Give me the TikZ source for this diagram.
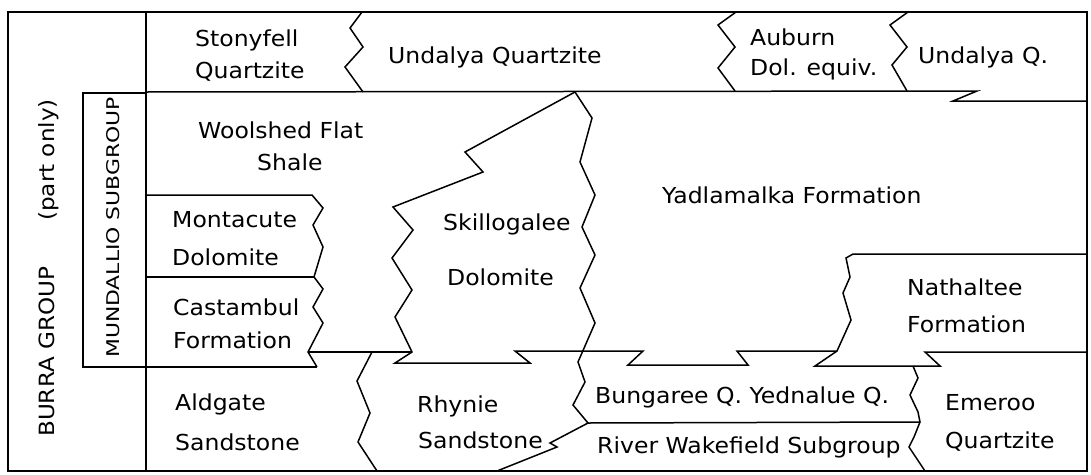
\documentclass[tikz,border=0pt]{standalone}
\usepackage{fontspec}
\setmainfont[FakeStretch=1.07]{DejaVu Sans}
\newfontfamily\mundfont[FakeStretch=1.25]{DejaVu Sans}
\newfontfamily\grpfont[FakeStretch=1.1]{DejaVu Sans}
\begin{document}
\begin{tikzpicture}[x=1pt,y=-1pt,
  boundary/.style={line width=1.5pt, line join=miter, line cap=butt},
  lbl/.style={anchor=base west, inner sep=0pt, font=\fontsize{22}{25}\selectfont},
  grp/.style={anchor=base west, inner sep=0pt, rotate=90, font=\grpfont\fontsize{21}{24}\selectfont},
  sub/.style={anchor=base west, inner sep=0pt, rotate=90, font=\mundfont\fontsize{17.5}{20}\selectfont}]
\useasboundingbox (0,0) rectangle (1091,474);

% frame
\draw[boundary] (8,12) rectangle (1087,471);
\draw[boundary] (146,12) -- (146,471);
% top row base
\draw[boundary] (146,92) -- (977,91) -- (953,101) -- (1087,101);
% top row zigzags
\draw[boundary] (362,12) -- (350,28) -- (363,47) -- (345,67) -- (363,92);
\draw[boundary] (736,12) -- (718,25) -- (735,47) -- (718,68) -- (735,91);
\draw[boundary] (908,12) -- (890,25) -- (907,47) -- (892,65) -- (907,91);
% Mundallio subgroup box
\draw[boundary] (146,93) -- (83,93) -- (83,367) -- (317,367);
% Montacute / Castambul
\draw[boundary] (146,195) -- (312,195) -- (323,208) -- (313,225) -- (323,247) -- (314,277)
  -- (323,289) -- (313,307) -- (323,323) -- (308,352) -- (317,367);
\draw[boundary] (146,277) -- (314,277);
\draw[boundary] (308,352) -- (412,352);
% Aldgate / Rhynie
\draw[boundary] (372,352) -- (357,381) -- (370,413) -- (358,442) -- (377,471);
% Skillogalee outline and base of Yadlamalka
\draw[boundary] (575,92) -- (465,152) -- (483,172) -- (393,207) -- (413,230) -- (392,258)
  -- (412,290) -- (395,317) -- (412,352) -- (395,363) -- (530,363) -- (515,351)
  -- (643,351) -- (628,365) -- (748,365) -- (737,351) -- (837,351);
\draw[boundary] (575,92) -- (592,118) -- (580,162) -- (595,195) -- (582,227) -- (595,255)
  -- (580,288) -- (595,323) -- (578,362) -- (585,382) -- (573,405) -- (588,423)
  -- (550,443) -- (557,447) -- (497,471);
% Bungaree / River Wakefield
\draw[boundary] (588,423) -- (920,422);
% Nathaltee
\draw[boundary] (1087,254) -- (853,254) -- (846,258) -- (850,277) -- (843,293) -- (851,320)
  -- (837,351) -- (815,366) -- (940,366) -- (925,352) -- (1087,352);
% Emeroo
\draw[boundary] (913,366) -- (918,378) -- (910,395) -- (918,412) -- (920,422)
  -- (914,437) -- (909,447) -- (925,471);

% labels
\node[grp] (burra) at (54,437) {BURRA GROUP};
\node[grp] (part) at (54,221) {(part only)};
\node[sub] (mund) at (119,358) {MUNDALLIO SUBGROUP};

\node[lbl] (sto1) at (195,46) {Stonyfell};
\node[lbl] (sto2) at (195,78) {Quartzite};
\node[lbl] (und) at (388,63) {Undalya Quartzite};
\node[lbl] (aub1) at (750,45) {Auburn};
\node[lbl] (aub2) at (750,75) {Dol. equiv.};
\node[lbl] (undq) at (918,63) {Undalya Q.};
\node[lbl] (woo1) at (198,138) {Woolshed Flat};
\node[lbl] (woo2) at (257,170) {Shale};
\node[lbl] (mon1) at (172,227) {Montacute};
\node[lbl] (mon2) at (172,265) {Dolomite};
\node[lbl] (cas1) at (173,315) {Castambul};
\node[lbl] (cas2) at (173,348) {Formation};
\node[lbl] (ald1) at (175,410) {Aldgate};
\node[lbl] (ald2) at (175,450) {Sandstone};
\node[lbl] (rhy1) at (417,412) {Rhynie};
\node[lbl] (rhy2) at (418,448) {Sandstone};
\node[lbl] (ski1) at (443,230) {Skillogalee};
\node[lbl] (ski2) at (447,285) {Dolomite};
\node[lbl] (yad) at (662,203) {Yadlamalka Formation};
\node[lbl] (nat1) at (907,295) {Nathaltee};
\node[lbl] (nat2) at (907,332) {Formation};
\node[lbl] (bun) at (595,403) {Bungaree Q. Yednalue Q.};
\node[lbl] (riv) at (597,453) {River Wakefield Subgroup};
\node[lbl] (eme1) at (945,410) {Emeroo};
\node[lbl] (eme2) at (945,448) {Quartzite};
\end{tikzpicture}
\end{document}
